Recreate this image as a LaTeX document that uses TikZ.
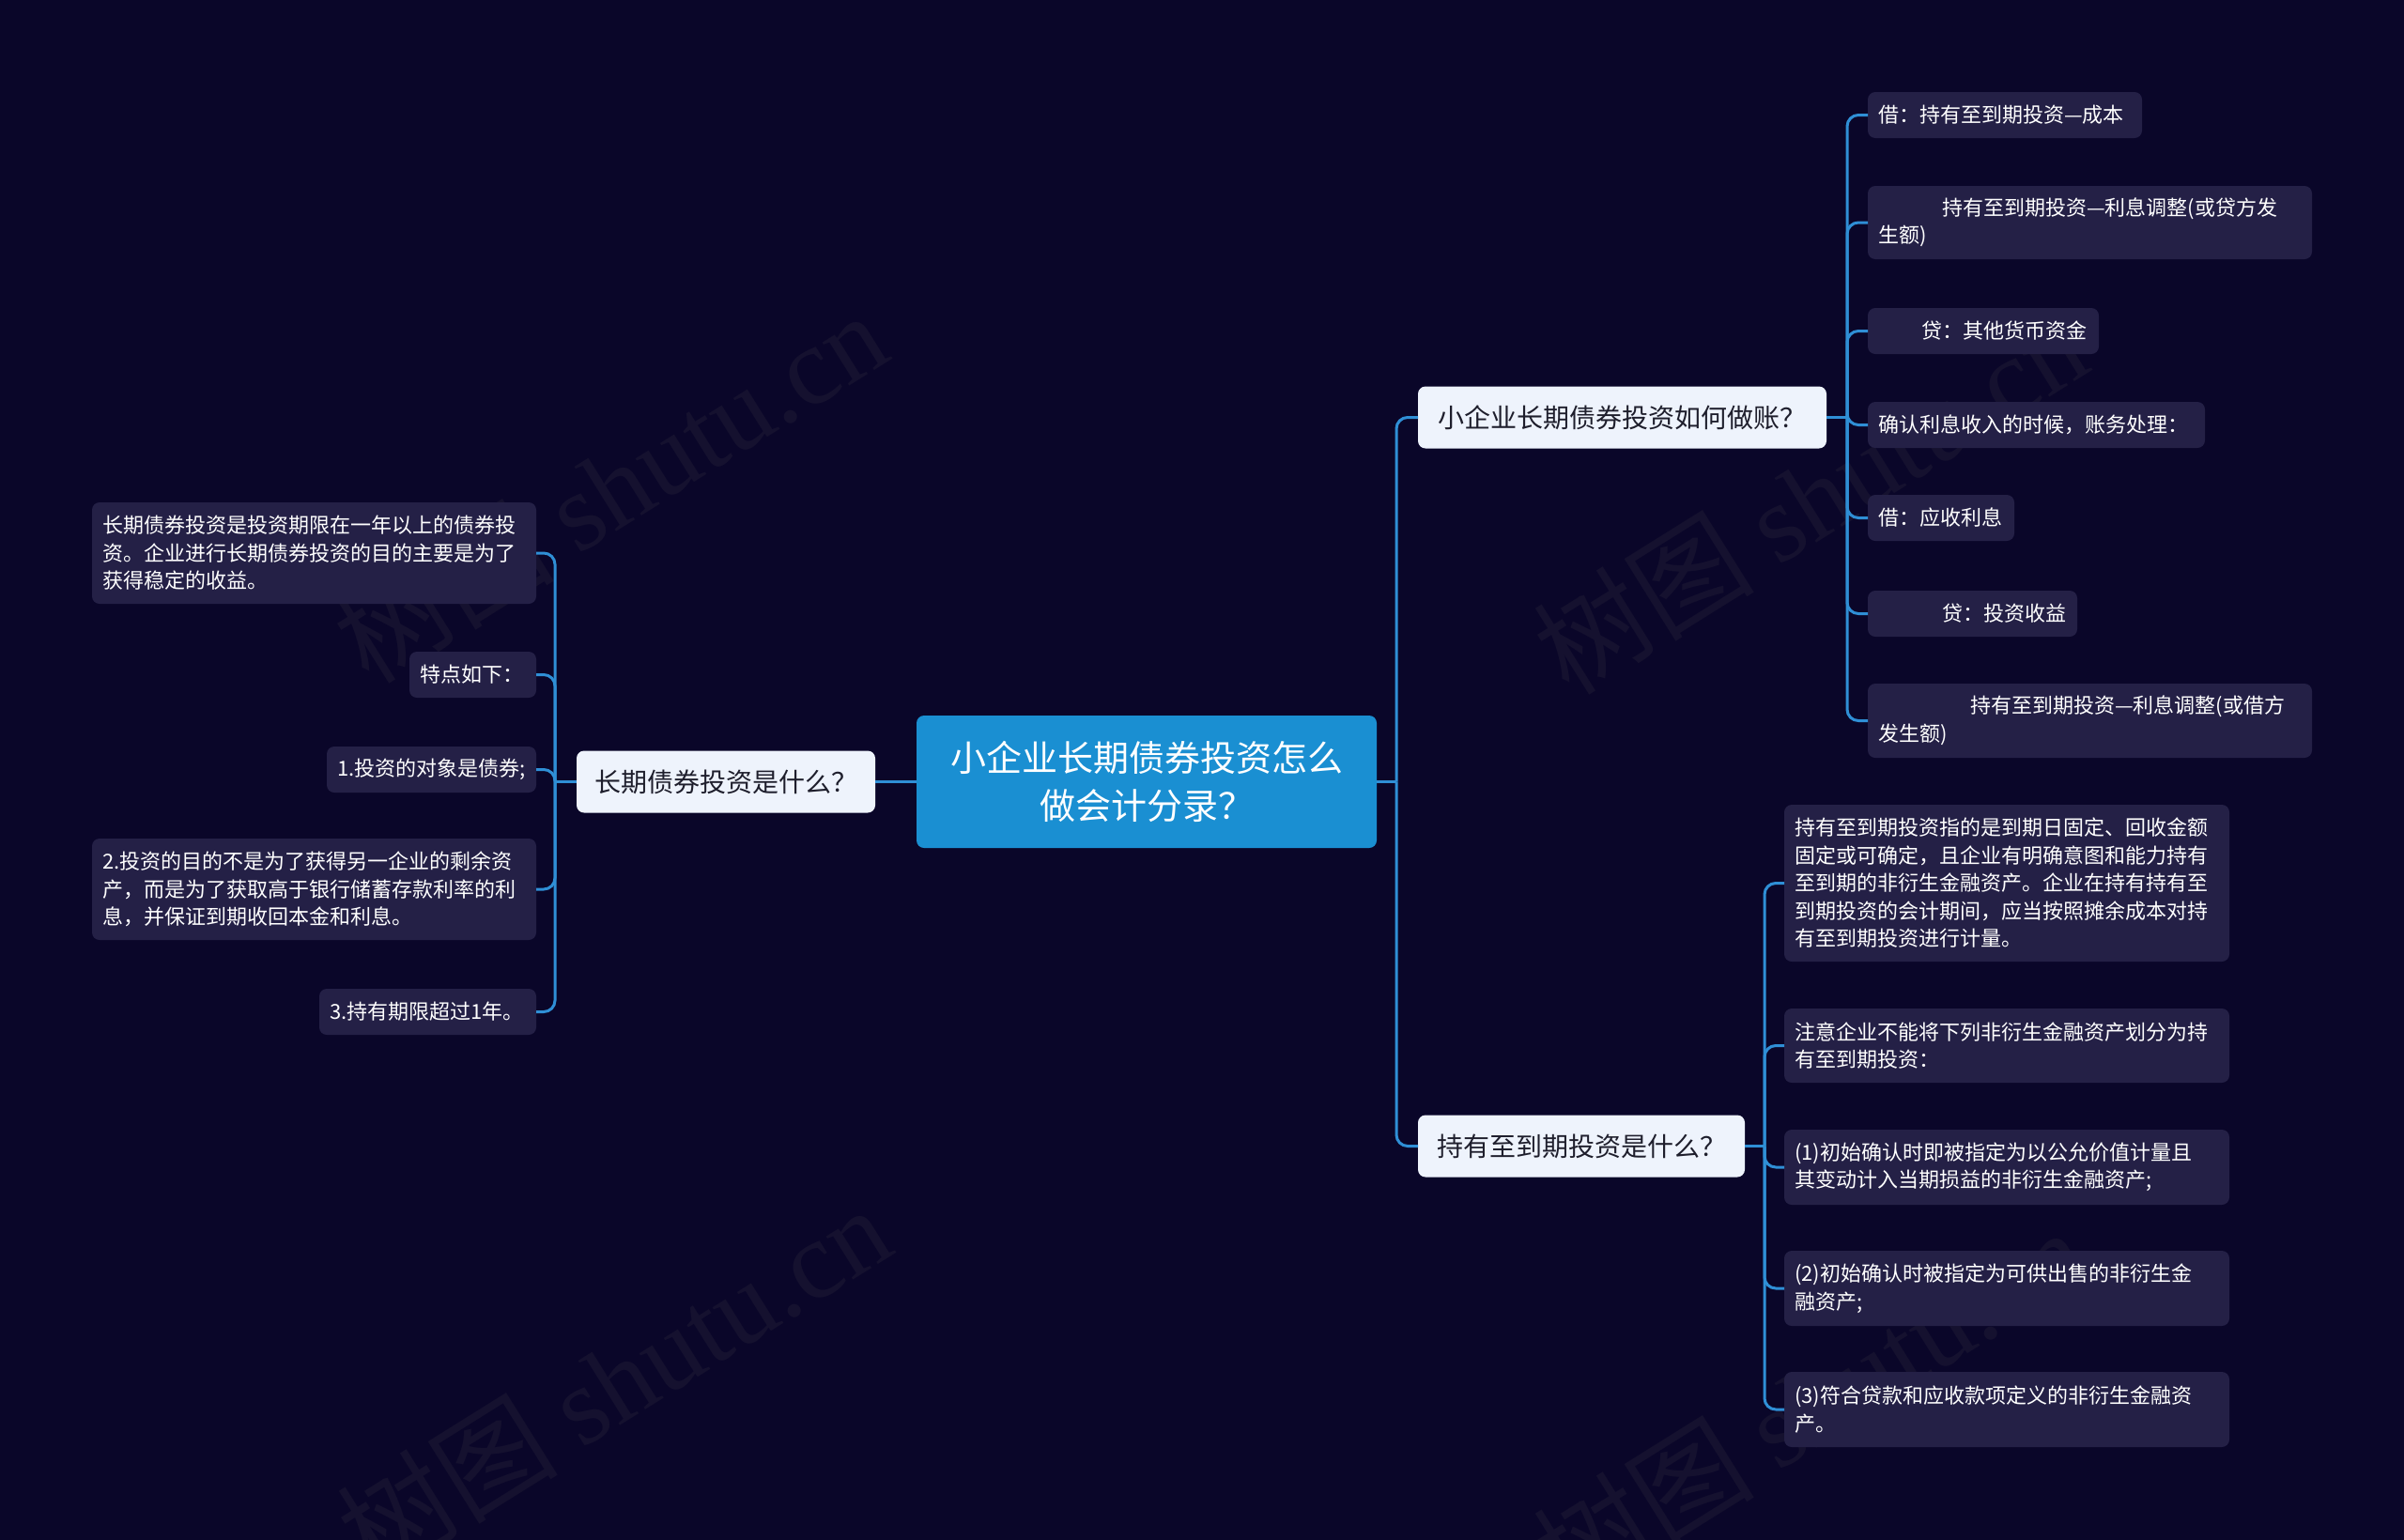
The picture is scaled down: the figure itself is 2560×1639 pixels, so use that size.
\documentclass[tikz,border=0pt]{standalone}
\usepackage{fontspec}
\setmainfont{Noto Sans CJK SC}
\newfontfamily\wmfont{Liberation Serif}
\definecolor{bg}{HTML}{0A0629}
\definecolor{leafc}{HTML}{242046}
\definecolor{lonec}{HTML}{EEF3FC}
\definecolor{lonetext}{HTML}{1E1E2C}
\definecolor{rootc}{HTML}{1A8FD2}
\definecolor{linec}{HTML}{2F8FD6}
\definecolor{wmc}{HTML}{15112F}
\tikzset{
  rootbox/.style={fill=rootc, rounded corners=8pt, text=white, align=center,
    font=\fontsize{38}{51}\selectfont, inner sep=0pt, outer sep=0pt,
    minimum width=490pt, minimum height=141pt},
  lonebox/.style={fill=lonec, rounded corners=8pt, text=lonetext, align=center,
    font=\fontsize{28}{34}\selectfont, inner sep=0pt, outer sep=0pt, minimum height=66pt},
  leafbox/.style={fill=leafc, rounded corners=8pt, text=white, align=left,
    font=\fontsize{22}{29.5}\selectfont, inner xsep=11pt, inner ysep=0pt, outer sep=0pt},
  lleaf/.style={leafbox, anchor=east},
  rleaf/.style={leafbox, anchor=west},
  conn/.style={draw=linec, line width=3pt, rounded corners=12pt},
  wm/.style={text=wmc, font=\fontsize{118}{118}\selectfont, rotate=32, inner sep=0pt}
}
\begin{document}
\begin{tikzpicture}[x=1pt,y=-1pt]
\useasboundingbox (0,0) rectangle (2560,1639);
\clip (0,0) rectangle (2560,1639);
\fill[bg] (-20,-20) rectangle (2580,1659);

% watermarks
\node[wm] (wm1) at (649,518) {树图 {\wmfont shutu.cn}};
\node[wm] (wm2) at (1927,530) {树图 {\wmfont shutu.cn}};
\node[wm] (wm3) at (653,1470) {树图 {\wmfont shutu.cn}};
\node[wm] (wm4) at (1927,1494) {树图 {\wmfont shutu.cn}};

% root and first level
\node[rootbox] (root) at (1221,832.5) {小企业长期债券投资怎么\\做会计分录？};
\node[lonebox, minimum width=318pt] (LL) at (773,832.5) {长期债券投资是什么？};
\node[lonebox, minimum width=435pt] (RT) at (1727.5,444.5) {小企业长期债券投资如何做账？};
\node[lonebox, minimum width=348pt] (RB) at (1684,1220.5) {持有至到期投资是什么？};

% left leaves
\node[lleaf, text width=451pt, minimum height=108pt] (A1) at (571,589)
  {长期债券投资是投资期限在一年以上的债券投\\资。企业进行长期债券投资的目的主要是为了\\获得稳定的收益。};
\node[lleaf, text width=113pt, minimum height=49pt] (A2) at (571,718.5) {特点如下：};
\node[lleaf, text width=201pt, minimum height=49pt] (A3) at (571,819.5) {1.投资的对象是债券;};
\node[lleaf, text width=451pt, minimum height=108pt] (A4) at (571,947)
  {2.投资的目的不是为了获得另一企业的剩余资\\产，而是为了获取高于银行储蓄存款利率的利\\息，并保证到期收回本金和利息。};
\node[lleaf, text width=209pt, minimum height=49pt] (A5) at (571,1077.5) {3.持有期限超过1年。};

% right top leaves
\node[rleaf, text width=270pt, minimum height=49pt] (B1) at (1989,122.5) {借：持有至到期投资—成本};
\node[rleaf, text width=451pt, minimum height=78pt] (B2) at (1989,237)
  {\hspace*{68pt}持有至到期投资—利息调整(或贷方发\\生额)};
\node[rleaf, text width=224pt, minimum height=49pt] (B3) at (1989,352.5) {\hspace*{46pt}贷：其他货币资金};
\node[rleaf, text width=337pt, minimum height=49pt] (B4) at (1989,452.5) {确认利息收入的时候，账务处理：};
\node[rleaf, text width=134pt, minimum height=49pt] (B5) at (1989,551.5) {借：应收利息};
\node[rleaf, text width=201pt, minimum height=49pt] (B6) at (1989,653.5) {\hspace*{68pt}贷：投资收益};
\node[rleaf, text width=451pt, minimum height=79pt] (B7) at (1989,767.5)
  {\hspace*{98pt}持有至到期投资—利息调整(或借方\\发生额)};

% right bottom leaves
\node[rleaf, text width=452pt, minimum height=167pt] (C1) at (1900,940.5)
  {持有至到期投资指的是到期日固定、回收金额\\固定或可确定，且企业有明确意图和能力持有\\至到期的非衍生金融资产。企业在持有持有至\\到期投资的会计期间，应当按照摊余成本对持\\有至到期投资进行计量。};
\node[rleaf, text width=452pt, minimum height=79pt] (C2) at (1900,1113.5)
  {注意企业不能将下列非衍生金融资产划分为持\\有至到期投资：};
\node[rleaf, text width=452pt, minimum height=80pt] (C3) at (1900,1243)
  {(1)初始确认时即被指定为以公允价值计量且\\其变动计入当期损益的非衍生金融资产;};
\node[rleaf, text width=452pt, minimum height=80pt] (C4) at (1900,1372)
  {(2)初始确认时被指定为可供出售的非衍生金\\融资产;};
\node[rleaf, text width=452pt, minimum height=80pt] (C5) at (1900,1501)
  {(3)符合贷款和应收款项定义的非衍生金融资\\产。};

% connectors
\coordinate (jr) at ([xshift=21pt]root.east);
\draw[conn] (root.east) -- (jr);
\draw[conn] (jr) |- (RT.west);
\draw[conn] (jr) |- (RB.west);
\draw[conn] (root.west) -- (LL.east);

\coordinate (jl) at ([xshift=-23pt]LL.west);
\draw[conn] (LL.west) -- (jl);
\foreach \c in {A1,A2,A3,A4,A5} \draw[conn] (jl) |- (\c.east);

\coordinate (jrt) at ([xshift=22pt]RT.east);
\draw[conn] (RT.east) -- (jrt);
\foreach \c in {B1,B2,B3,B4,B5,B6,B7} \draw[conn] (jrt) |- (\c.west);

\coordinate (jrb) at ([xshift=21pt]RB.east);
\draw[conn] (RB.east) -- (jrb);
\foreach \c in {C1,C2,C3,C4,C5} \draw[conn] (jrb) |- (\c.west);
\end{tikzpicture}
\end{document}
